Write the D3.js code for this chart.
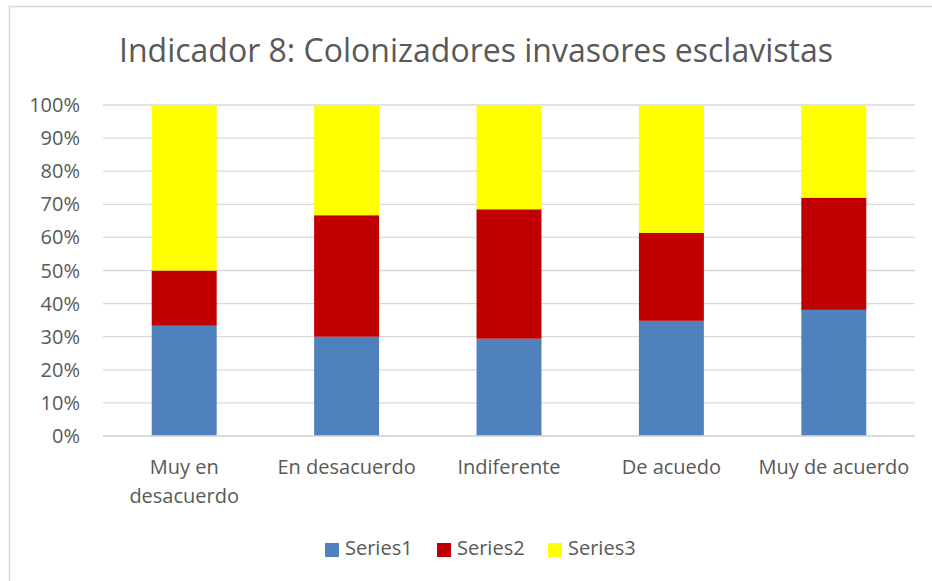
<!DOCTYPE html>
<html>
<head>
<meta charset="utf-8">
<script src="https://cdn.jsdelivr.net/npm/d3@7"></script>
<style>
  body { margin: 0; background: #fff; }
  svg { display: block; font-family: "Open Sans", sans-serif; }
</style>
</head>
<body>
<svg id="chart" width="932" height="581"></svg>
<script>
// Data (share of answers per category)
const categories = ["Muy en desacuerdo", "En desacuerdo", "Indiferente", "De acuedo", "Muy de acuerdo"];
const seriesNames = ["Series1", "Series2", "Series3"];
const series1 = [33.3, 30.0, 29.4, 34.8, 38.1];
const series2 = [16.7, 36.7, 39.1, 26.6, 33.9];
const series3 = [50.0, 33.3, 31.5, 38.6, 28.0];
const yTicks = [0, 0.1, 0.2, 0.3, 0.4, 0.5, 0.6, 0.7, 0.8, 0.9, 1];
const colors = ["#4f81bd", "#c00000", "#ffff00"];
const titleText = "Indicador 8: Colonizadores invasores esclavistas";

const svg = d3.select("#chart");
const textColor = "#595959";
const gridColor = "#d9d9d9";

// outer chart border (left + top visible)
svg.append("rect")
    .attr("x", 9.5).attr("y", 6.5)
    .attr("width", 960).attr("height", 600)
    .attr("fill", "none").attr("stroke", gridColor).attr("stroke-width", 1.5);

svg.append("text")
    .attr("x", 476).attr("y", 62)
    .attr("text-anchor", "middle")
    .attr("font-size", 32)
    .attr("fill", textColor)
    .text(titleText);

// build stacked table
const table = categories.map((c, i) => {
  const total = series1[i] + series2[i] + series3[i];
  return { cat: c, Series1: series1[i] / total, Series2: series2[i] / total, Series3: series3[i] / total };
});
const stacked = d3.stack().keys(seriesNames)(table);

const x = d3.scaleBand().domain(categories).range([103, 915]).paddingInner(0.6).paddingOuter(0.3);
const y = d3.scaleLinear().domain([0, 1]).range([436, 105]);

// gridlines
svg.append("g").selectAll("line")
    .data(yTicks)
    .enter().append("line")
    .attr("x1", 103).attr("x2", 915)
    .attr("y1", d => y(d)).attr("y2", d => y(d))
    .attr("stroke", gridColor).attr("stroke-width", 1.3);

// y tick labels
svg.append("g").selectAll("text")
    .data(yTicks)
    .enter().append("text")
    .attr("x", 80).attr("y", d => y(d))
    .attr("dy", "0.35em")
    .attr("text-anchor", "end")
    .attr("font-size", 20)
    .attr("fill", textColor)
    .text(d3.format(".0%"));

// bars
svg.append("g").selectAll("g")
    .data(stacked)
    .enter().append("g")
    .attr("fill", (d, i) => colors[i])
    .selectAll("rect")
    .data(d => d)
    .enter().append("rect")
    .attr("x", d => x(d.data.cat))
    .attr("y", d => y(d[1]))
    .attr("width", x.bandwidth())
    .attr("height", d => y(d[0]) - y(d[1]));

// bottom axis line on top of bars
svg.append("line")
    .attr("x1", 103).attr("x2", 915)
    .attr("y1", y(0)).attr("y2", y(0))
    .attr("stroke", gridColor).attr("stroke-width", 1.5);

// category labels, wrapped to the band width
const step = x.step();
const labels = svg.append("g").selectAll("text")
    .data(categories)
    .enter().append("text")
    .attr("text-anchor", "middle")
    .attr("font-size", 20)
    .attr("fill", textColor);

labels.each(function (c) {
  const t = d3.select(this);
  const cx = x(c) + x.bandwidth() / 2;
  const words = c.split(" ");
  let lines = [], line = [];
  let tspan = t.append("tspan").attr("x", cx);
  words.forEach(w => {
    line.push(w);
    tspan.text(line.join(" "));
    if (tspan.node().getComputedTextLength() > step && line.length > 1) {
      line.pop();
      lines.push(line.join(" "));
      line = [w];
      tspan.text(w);
    }
  });
  lines.push(line.join(" "));
  tspan.remove();
  lines.forEach((l, i) => {
    t.append("tspan").attr("x", cx).attr("y", 474 + i * 29).text(l);
  });
});

// legend
const legendX = [325, 437, 548];
const legend = svg.append("g").selectAll("g")
    .data(seriesNames)
    .enter().append("g")
    .attr("transform", (d, i) => `translate(${legendX[i]},543)`);
legend.append("rect")
    .attr("width", 14).attr("height", 14)
    .attr("fill", (d, i) => colors[i]);
legend.append("text")
    .attr("x", 20).attr("y", 12)
    .attr("font-size", 20)
    .attr("fill", textColor)
    .text(d => d);
</script>
</body>
</html>
